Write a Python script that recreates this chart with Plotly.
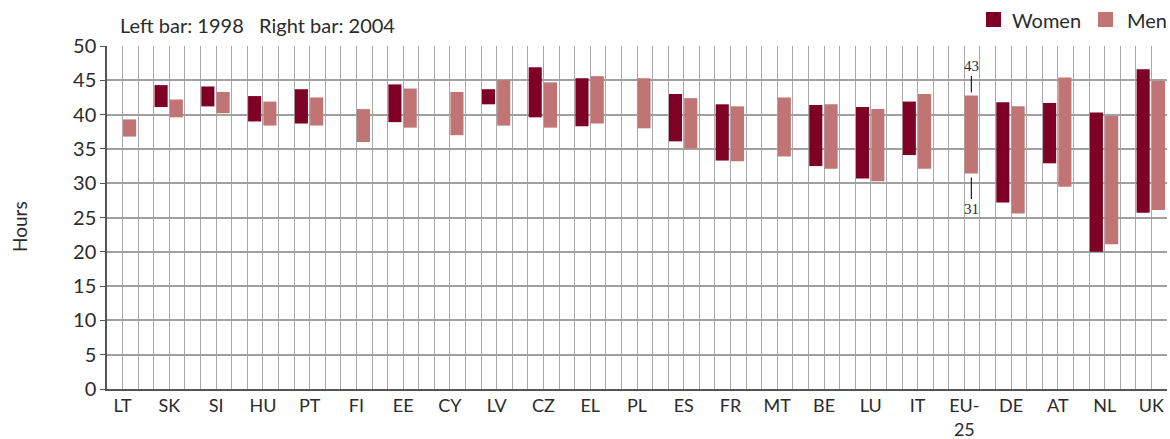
import plotly.graph_objects as go

countries = ["LT", "SK", "SI", "HU", "PT", "FI", "EE", "CY", "LV", "CZ", "EL", "PL",
             "ES", "FR", "MT", "BE", "LU", "IT", "EU-25", "DE", "AT", "NL", "UK"]
tick_text = ["EU-<br>25" if c == "EU-25" else c for c in countries]

low_1998 = [None, 41.1, 41.2, 39.0, 38.7, None, 38.9, None, 41.5, 39.6, 38.3, None,
            36.1, 33.3, None, 32.5, 30.7, 34.1, None, 27.2, 32.9, 20.0, 25.7]
high_1998 = [None, 44.3, 44.1, 42.7, 43.7, None, 44.4, None, 43.7, 46.9, 45.3, None,
             43.0, 41.5, None, 41.4, 41.1, 41.9, None, 41.8, 41.7, 40.3, 46.6]
low_2004 = [36.8, 39.6, 40.2, 38.4, 38.4, 36.0, 38.1, 37.0, 38.4, 38.1, 38.7, 38.0,
            35.1, 33.2, 33.9, 32.1, 30.3, 32.1, 31.4, 25.6, 29.5, 21.1, 26.1]
high_2004 = [39.3, 42.2, 43.3, 41.9, 42.5, 40.8, 43.8, 43.3, 45.0, 44.7, 45.6, 45.3,
             42.4, 41.2, 42.5, 41.5, 40.8, 43.0, 42.8, 41.2, 45.4, 39.8, 44.9]
legend_names = ["Women", "Men"]

DARK = "#7e0024"
PINK = "#c07474"
FONT = "Lato, 'Open Sans', sans-serif"
TXT = "#2b2b2b"

W, H = 1170, 439
ML, MR, MT, MB = 107, 3, 46, 50
PW, PH = W - ML - MR, H - MT - MB


def px_x(p):  # pixel -> paper
    return (p - ML) / PW


def px_y(p):
    return (H - MB - p) / PH


n = len(countries)
slots = 3 * n - 1  # each country: 1998 slot, 2004 slot, gap (no gap after last)

x98 = [3 * i + 0.47 for i in range(n)]
x04 = [3 * i + 1.45 for i in range(n)]
h98 = [None if lo is None else hi - lo for lo, hi in zip(low_1998, high_1998)]
h04 = [hi - lo for lo, hi in zip(low_2004, high_2004)]

fig = go.Figure()
fig.add_trace(go.Bar(x=x98, y=h98, base=low_1998, width=0.84, name="1998",
                     marker=dict(color=DARK, line=dict(width=0)),
                     hovertemplate="%{customdata}<br>1998: %{base}–%{y}<extra></extra>",
                     customdata=countries))
fig.add_trace(go.Bar(x=x04, y=h04, base=low_2004, width=0.84, name="2004",
                     marker=dict(color=PINK, line=dict(width=0)),
                     customdata=countries,
                     hovertemplate="%{customdata}<br>2004: %{base}–%{y}<extra></extra>"))

# EU-25 annotations
eu = countries.index("EU-25")
fig.add_annotation(x=x04[eu], y=high_2004[eu], text=f"{round(high_2004[eu])}",
                   showarrow=True, arrowhead=0, arrowwidth=1.2, arrowcolor="#222",
                   ax=0, ay=-29, standoff=3,
                   font=dict(family="'Liberation Serif', serif", size=15, color=TXT))
fig.add_annotation(x=x04[eu], y=low_2004[eu], text=f"{round(low_2004[eu])}",
                   showarrow=True, arrowhead=0, arrowwidth=1.2, arrowcolor="#222",
                   ax=0, ay=35, standoff=4,
                   font=dict(family="'Liberation Serif', serif", size=15, color=TXT))

# header text
fig.add_annotation(xref="paper", yref="paper", x=px_x(118), y=px_y(25),
                   xanchor="left", yanchor="middle", showarrow=False,
                   text="Left bar: 1998&nbsp;&nbsp; Right bar: 2004",
                   font=dict(family=FONT, size=20, color=TXT))
# y-axis title
fig.add_annotation(xref="paper", yref="paper", x=px_x(19), y=px_y(227),
                   xanchor="center", yanchor="middle", showarrow=False, textangle=-90,
                   text="Hours", font=dict(family=FONT, size=19, color=TXT))

# legend (drawn manually to keep the plot area fixed)
for (sq_left, txt_left), name, col in zip([(986, 1010), (1098, 1125)], legend_names, [DARK, PINK]):
    fig.add_shape(type="rect", xref="paper", yref="paper",
                  x0=px_x(sq_left), x1=px_x(sq_left + 15), y0=px_y(27), y1=px_y(12),
                  fillcolor=col, line=dict(width=0))
    fig.add_annotation(xref="paper", yref="paper", x=px_x(txt_left), y=px_y(20),
                       xanchor="left", yanchor="middle", showarrow=False, text=name,
                       font=dict(family=FONT, size=20, color=TXT))

fig.update_layout(
    width=W, height=H,
    margin=dict(l=ML, r=MR, t=MT, b=MB),
    paper_bgcolor="white", plot_bgcolor="white",
    barmode="overlay", showlegend=False,
    font=dict(family=FONT, size=18, color=TXT),
    xaxis=dict(range=[0, slots], tickmode="array",
               tickvals=[3 * i + 1 for i in range(n)], ticktext=tick_text,
               showgrid=True, gridcolor="#a9a9a9", gridwidth=1,
               minor=dict(tick0=0, dtick=1, showgrid=True, gridcolor="#a9a9a9", gridwidth=1),
               ticks="", showline=True, linecolor="#555", linewidth=1.5,
               zeroline=False, tickfont=dict(size=18), fixedrange=True, automargin=False),
    yaxis=dict(range=[0, 50], dtick=5, showgrid=True, gridcolor="#a0a0a0", gridwidth=1.5,
               ticks="outside", ticklen=5, tickcolor="#555", showline=True,
               linecolor="#555", linewidth=1.5, zeroline=False,
               tickfont=dict(size=20), fixedrange=True, automargin=False),
)

fig.write_html("out.html", config={"displayModeBar": False},
               post_script="document.body.style.margin='0';document.body.style.overflow='hidden';")
